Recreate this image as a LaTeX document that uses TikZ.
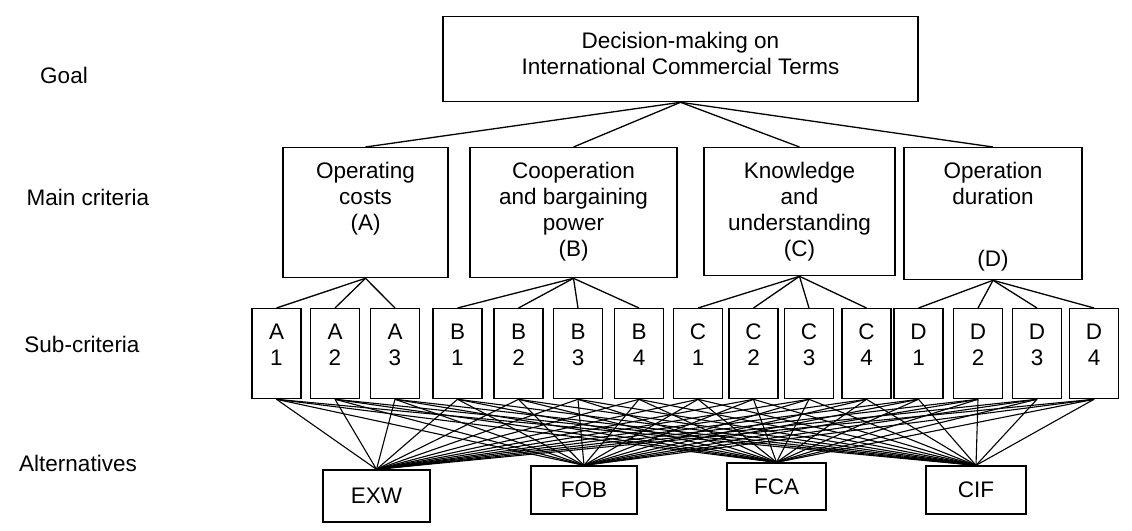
\documentclass[tikz,border=0pt]{standalone}
\usepackage{fontspec}
\setmainfont{Liberation Sans}
\usetikzlibrary{positioning}
\newcommand{\toplines}[1]{\begin{tabular}[t]{@{}c@{}}#1\end{tabular}}

\begin{document}
\begin{tikzpicture}[x=1pt,y=-1pt,font=\fontsize{22.5}{26}\selectfont]
\useasboundingbox (0,0) rectangle (1132,530);
\tikzstyle{block} = [draw, shape=rectangle, line width=1.3pt, align=center]
\tikzstyle{crit} = [block, anchor=north, inner sep=0pt, text height=31pt, text depth=99pt]
\tikzstyle{subc} = [block, anchor=north, inner sep=0pt, minimum width=49pt, text height=31pt, text depth=59pt]
\tikzstyle{alt} = [block, minimum width=100pt, minimum height=48pt]
%Level labels
\node at (64,75) (lgoal) {Goal};
\node at (88,197) (lmain) {Main criteria};
\node at (82,344) (lsub) {Sub-criteria};
\node at (78,463) (lalt) {Alternatives};
%Creating Blocks
\node at (680.5,16) [block,anchor=north,inner sep=0pt,minimum width=475pt,text height=32pt,text depth=53pt] (goal) {\toplines{Decision-making on\\International Commercial Terms}};
\node at (365.5,147) [crit,minimum width=165pt] (critA) {\toplines{Operating\\costs\\(A)}};
\node at (573.5,147) [crit,minimum width=207pt] (critB) {\toplines{Cooperation\\and bargaining\\power\\(B)}};
\node at (799.5,147) [crit,minimum width=191pt,text depth=97pt] (critC) {\toplines{Knowledge\\and\\understanding\\(C)}};
\node at (993,147) [crit,minimum width=178pt,text depth=101pt] (critD) {\toplines{Operation\\duration\\[36pt](D)}};
\foreach \c/\i/\x in {A/1/276.5,A/2/335,A/3/395,B/1/457.5,B/2/518.5,B/3/578,B/4/639,
  C/1/698,C/2/753.5,C/3/809,C/4/866.5,D/1/918.5,D/2/978,D/3/1037,D/4/1094}
  \node at (\x,308) [subc] (s\c\i) {\toplines{\c\\\i}};
\node at (376.5,496) [alt,minimum width=107pt,minimum height=52pt] (EXW) {EXW};
\node at (584,490) [alt,minimum width=106pt] (FOB) {FOB};
\node at (776.5,486.5) [alt,minimum width=99pt,minimum height=47pt] (FCA) {FCA};
\node at (976,490) [alt] (CIF) {CIF};
\begin{scope}[line width = 1.3pt]
\foreach \c in {A,B,C,D}
  \draw (goal.south) -- (crit\c.north);
\foreach \i in {1,2,3}
  \draw (critA.south) -- (sA\i.north);
\foreach \c in {B,C,D}
  \foreach \i in {1,2,3,4}
    \draw (crit\c.south) -- (s\c\i.north);
\end{scope}
\begin{scope}[line width = 1.1pt]
\foreach \s in {sA1,sA2,sA3,sB1,sB2,sB3,sB4,sC1,sC2,sC3,sC4,sD1,sD2,sD3,sD4}
  \foreach \a in {EXW,FOB,FCA,CIF}
    \draw (\s.south) -- (\a.north);
\end{scope}
\end{tikzpicture}
\end{document}
